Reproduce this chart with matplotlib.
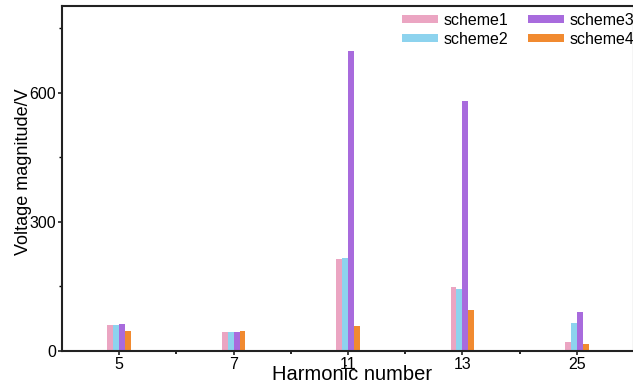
import matplotlib.pyplot as plt
import matplotlib.ticker as ticker
import numpy as np

plt.rcParams['font.family'] = ['Liberation Sans', 'DejaVu Sans']

harmonics = ['5', '7', '11', '13', '25']
scheme1 = [60, 45, 213, 148, 20]
scheme2 = [60, 44, 216, 145, 65]
scheme3 = [62, 44, 698, 580, 90]
scheme4 = [47, 47, 57, 95, 17]

names = ['scheme1', 'scheme2', 'scheme3', 'scheme4']
colors = ['#EBA5C2', '#8DD3EE', '#A86BDD', '#F18A30']

fig = plt.figure(figsize=(6.33, 3.85), dpi=100)
ax = fig.add_axes([62 / 633, 34 / 385, 572 / 633, 345 / 385])

x = np.arange(len(harmonics))
w = 0.052
for i, (vals, name, c) in enumerate(zip([scheme1, scheme2, scheme3, scheme4], names, colors)):
    ax.bar(x + (i - 1.5) * w, vals, width=w, color=c, label=name)

ax.set_xlim(-0.5, 4.5)
ax.set_ylim(0, 802)
ax.set_xticks(x)
ax.set_xticklabels(harmonics)
ax.xaxis.set_minor_locator(ticker.FixedLocator(x[:-1] + 0.5))
ax.yaxis.set_major_locator(ticker.MultipleLocator(300))
ax.yaxis.set_minor_locator(ticker.MultipleLocator(150))

ax.tick_params(which='major', length=3, width=1.2, labelsize=11.5, pad=1.5, color='#222222')
ax.tick_params(axis='x', which='minor', length=2, width=1.2)
ax.tick_params(axis='y', which='minor', length=2.5, width=1.0)
for s in ax.spines.values():
    s.set_linewidth(1.5)
    s.set_color('#222222')

ax.set_xlabel("Harmonic number", fontsize=14.5, va='center')
ax.xaxis.set_label_coords(0.507, -0.068)
ax.set_ylabel("Voltage magnitude/V", fontsize=13, va='center', ha='center')
ax.yaxis.set_label_coords(-0.068, 0.519)

ax.legend(ncol=2, frameon=False, loc='upper left', bbox_to_anchor=(402 / 633, 1 - 13 / 385),
          bbox_transform=fig.transFigure, borderpad=0, borderaxespad=0,
          handlelength=2.25, handleheight=0.4, handletextpad=0.38,
          columnspacing=1.2, labelspacing=0.25, fontsize=11.5)

fig.savefig("out.png")
